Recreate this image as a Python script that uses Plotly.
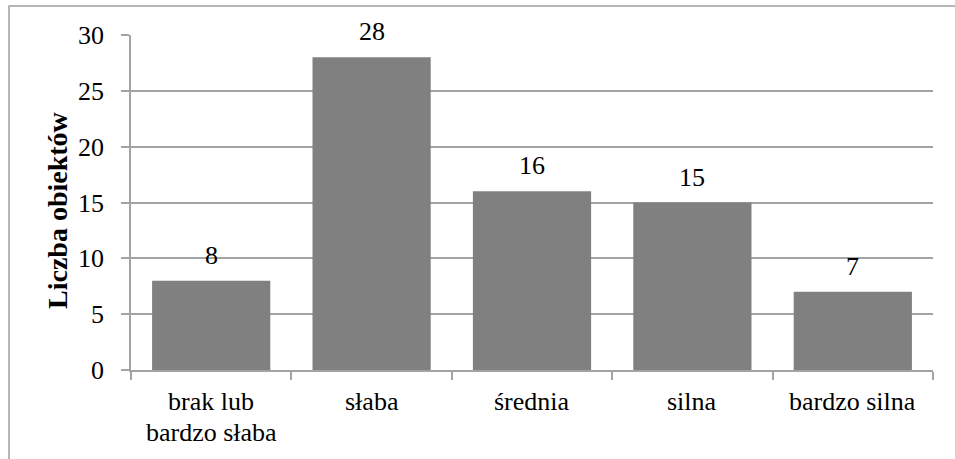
import plotly.graph_objects as go

# Number of objects per intensity class
categories = ["brak lub<br>bardzo słaba", "słaba", "średnia", "silna", "bardzo silna"]
counts = [8, 28, 16, 15, 7]
y_ticks = [0, 5, 10, 15, 20, 25, 30]

FONT = "Liberation Serif"
GRID = "#a3a3a3"
W, H = 955, 459
L, R, T, B = 131, 22, 35, 89

fig = go.Figure(
    go.Bar(
        x=categories,
        y=counts,
        marker=dict(color="#808080", line=dict(width=0)),
        width=0.737,
        hoverinfo="skip",
    )
)

# value labels above each bar
for cat, val in zip(categories, counts):
    fig.add_annotation(
        x=cat, y=val, text=str(val), showarrow=False,
        yanchor="bottom", yshift=9,
        font=dict(family=FONT, size=26, color="black"),
    )

# category labels under the axis, one annotation per line for tighter leading
for cat in categories:
    for i, line in enumerate(cat.split("<br>")):
        fig.add_annotation(
            x=cat, xref="x", y=0, yref="paper", text=line, showarrow=False,
            yanchor="middle", yshift=-31 - 31 * i,
            font=dict(family=FONT, size=26, color="black"),
        )

pw, ph = W - L - R, H - T - B

# y-axis title
fig.add_annotation(
    xref="paper", yref="paper",
    x=(58 - L) / pw, y=(H - B - 210) / ph,
    text="<b>Liczba obiektów</b>", textangle=-90, showarrow=False,
    xanchor="center", yanchor="middle",
    font=dict(family=FONT, size=28, color="black"),
)

# outer frame of the chart area
fig.add_shape(
    type="rect", xref="paper", yref="paper",
    x0=(9 - L) / pw, x1=(W + 5 - L) / pw,
    y0=(H - B - (H + 5)) / ph, y1=(H - B - 6) / ph,
    line=dict(color="#a0a0a0", width=1.5), layer="below",
)

fig.update_layout(
    width=W, height=H,
    margin=dict(l=L, r=R, t=T, b=B, autoexpand=False),
    paper_bgcolor="white", plot_bgcolor="white",
    showlegend=False,
    font=dict(family=FONT, size=26, color="black"),
    xaxis=dict(
        type="category",
        showline=True, linecolor=GRID, linewidth=1.5,
        ticks="outside", tickson="boundaries", ticklen=8, tickcolor=GRID, tickwidth=1.5,
        showgrid=False, showticklabels=False,
        range=[-0.5, 4.5],
        automargin=False,
    ),
    yaxis=dict(
        range=[0, 30], tickvals=y_ticks,
        showline=True, linecolor=GRID, linewidth=1.5,
        ticks="outside", ticklen=8, tickcolor=GRID, tickwidth=1.5,
        showgrid=True, gridcolor=GRID, gridwidth=1.5,
        zeroline=False,
        ticklabelstandoff=12,
        tickfont=dict(family=FONT, size=26, color="black"),
        automargin=False,
    ),
)

fig.write_html("out.html")
